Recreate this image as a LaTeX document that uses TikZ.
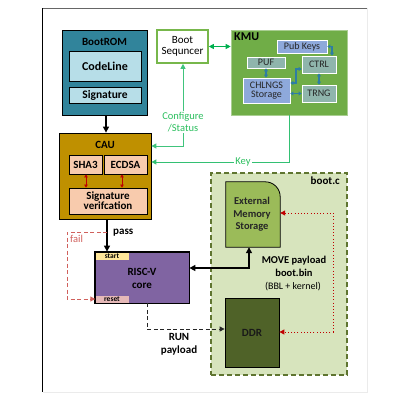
\documentclass[tikz,border=0pt]{standalone}
\usepackage{fontspec}
\setmainfont{Carlito}
\usetikzlibrary{arrows.meta,calc}
\definecolor{teal1}{HTML}{31849B}
\definecolor{ltblue}{HTML}{B7DEE8}
\definecolor{gold}{HTML}{BF9000}
\definecolor{peach}{HTML}{F8CBAD}
\definecolor{darkred}{HTML}{C00000}
\definecolor{seqgreen}{HTML}{77B74B}
\definecolor{arrgreen}{HTML}{00B050}
\definecolor{txtgreen}{HTML}{2BBF5E}
\definecolor{kmugreen}{HTML}{70AD47}
\definecolor{kmublue}{HTML}{8EA9DB}
\definecolor{kmugray}{HTML}{8FB5AC}
\definecolor{kmuarrow}{HTML}{2E7DA3}
\definecolor{purp}{HTML}{8064A2}
\definecolor{startc}{HTML}{FFE699}
\definecolor{resetc}{HTML}{E6B9B8}
\definecolor{failc}{HTML}{D0605C}
\definecolor{bootc}{HTML}{D7E4BD}
\definecolor{bootb}{HTML}{5F7530}
\definecolor{extc}{HTML}{9BBB59}
\definecolor{ddrc}{HTML}{4F6228}
\tikzset{
  blk/.style={draw=black, line width=0.8pt, inner sep=0pt, align=center},
  txt/.style={inner sep=0pt, align=center},
  bf/.style={font=\fontsize{11}{12}\selectfont\bfseries},
  rg/.style={font=\fontsize{11}{12}\selectfont},
  kmubox/.style={draw=white, line width=0.6pt, inner sep=0pt, align=center, font=\fontsize{10}{11}\selectfont, text=black!85},
  garrow/.style={draw=arrgreen, line width=1pt, {Triangle[length=5pt,width=5pt]}-{Triangle[length=5pt,width=5pt]}},
  karrow/.style={draw=kmuarrow, line width=1.1pt, {Triangle[length=3pt,width=3.8pt]}-{Triangle[length=3pt,width=3.8pt]}},
  rarrow/.style={draw=darkred, line width=0.8pt, {Triangle[length=3pt,width=3.5pt]}-{Triangle[length=3pt,width=3.5pt]}},
  barrow/.style={draw=black, line width=1.4pt, -{Triangle[length=6pt,width=6pt]}},
}
\begin{document}
\begin{tikzpicture}[x=1pt,y=-1pt]
\useasboundingbox (0,0) rectangle (401,408);
% frame
\draw[black!8, line width=0.6pt] (367,8) -- (367,392) -- (42.5,392);
\draw[black!60, line width=0.6pt] (42.5,8) -- (367,8);
\draw[black, line width=0.9pt] (42.5,8) -- (42.5,392);

% BootROM
\node[blk, fill=teal1, minimum width=85, minimum height=85] (bootrom) at (104.5,72.5) {};
\node[txt, bf] (bootromt) at (104.5,42) {BootROM};
\node[blk, fill=ltblue, minimum width=72, minimum height=30, font=\fontsize{12}{13}\selectfont\bfseries] (codeline) at (105,66) {CodeLine};
\node[blk, fill=ltblue, minimum width=72, minimum height=16, font=\fontsize{11.5}{12}\selectfont\bfseries] (sig) at (105,95) {Signature};

% CAU
\node[blk, fill=gold, minimum width=92, minimum height=86] (cau) at (105,176) {};
\node[txt, bf] (caut) at (105,145) {CAU};
\node[blk, fill=peach, minimum width=33, minimum height=19, bf] (sha) at (85.5,164.5) {SHA3};
\node[blk, fill=peach, minimum width=43, minimum height=19, bf] (ecdsa) at (125.5,164.5) {ECDSA};
\node[blk, fill=peach, minimum width=78, minimum height=26, bf] (sv) at (108,201) {Signature\\[-2pt]verifcation};
\draw[rarrow] (sha.south -| 86,0) -- (sv.north -| 86,0);
\draw[rarrow] (ecdsa.south -| 122,0) -- (sv.north -| 122,0);

\draw[barrow, line width=1.2pt] (bootrom.south -| 106,0) -- (cau.north -| 106,0);

% Boot sequencer
\node[draw=seqgreen, line width=1.6pt, fill=white, minimum width=51, minimum height=33, inner sep=0pt, align=center, rg] (seq) at (182.5,46.5) {Boot\\[-1pt]Sequncer};

% KMU
\node[draw=kmugreen!60, line width=0.6pt, fill=kmugreen, minimum width=116, minimum height=85, inner sep=0pt] (kmu) at (289,72.5) {};
\node[txt, font=\fontsize{12}{13}\selectfont\bfseries, anchor=west] (kmut) at (234,37) {KMU};
\node[kmubox, fill=kmublue, minimum width=50, minimum height=13] (pub) at (302,46.5) {Pub Keys};
\node[kmubox, fill=kmugray, minimum width=38, minimum height=11] (puf) at (266,62.5) {PUF};
\node[kmubox, fill=kmugray, minimum width=34, minimum height=17] (ctrl) at (319,64.5) {CTRL};
\node[kmubox, fill=kmublue, minimum width=47, minimum height=25] (chl) at (266.5,90.5) {CHLNGS\\[-2pt]Storage};
\node[kmubox, fill=kmugray, minimum width=34, minimum height=17] (trng) at (319,93.5) {TRNG};
\draw[karrow] (pub.east) -| (ctrl.north -| 332,0);
\draw[karrow] (puf.south) -- (chl.north -| puf.south);
\draw[karrow] (chl.east |- 0,83) -- (296,83) |- (ctrl.west |- 0,69);
\draw[karrow] (ctrl.south) -- (trng.north);
\draw[karrow] (chl.east |- 0,93.5) -- (trng.west);

\draw[garrow] (seq.east) -- (kmu.west |- seq.east);

% Configure / Status
\coordinate (cfgc) at (183,146);
\draw[garrow, draw=arrgreen!75] (seq.south -| cfgc) -- (cfgc) -- (cau.east |- cfgc);
\node[txt, fill=white, inner ysep=1pt, text=txtgreen, font=\fontsize{10.5}{12.5}\selectfont] (cfg) at (183,122) {Configure\\/Status};

% Key
\coordinate (keyc) at (289,162);
\draw[draw=arrgreen!80, line width=1pt, -{Triangle[length=5pt,width=5pt]}] (kmu.south -| keyc) -- (keyc) -- (cau.east |- keyc);
\node[txt, fill=white, inner xsep=1pt, text=txtgreen, font=\fontsize{10.5}{12}\selectfont] (key) at (243,162) {Key};

% boot.c region
\node[draw=bootb, line width=1.6pt, dash pattern=on 5pt off 3pt, fill=bootc, minimum width=136, minimum height=202, inner sep=0pt] (bootc) at (279,274) {};
\node[txt, bf, anchor=east] (bootct) at (340,181) {boot.c};

% External memory
\node[txt, minimum width=54, minimum height=65] (ext) at (253,214.5) {};
\draw[draw=black, line width=0.8pt, fill=extc] (ext.south west) -- (ext.north west) -- ([xshift=-15pt]ext.north east) .. controls ([xshift=-6.7pt]ext.north east) and ([yshift=-6.7pt]ext.north east) .. ([yshift=-15pt]ext.north east) -- (ext.south east) -- cycle;
\node[txt, font=\fontsize{10.5}{12.5}\selectfont\bfseries, text=black!85] (extt) at (252,214.5) {External\\Memory\\Storage};

% DDR
\node[blk, fill=ddrc, minimum width=54, minimum height=69, bf, text=black!90] (ddr) at (252,332.5) {DDR};

% RISC-V
\node[blk, fill=purp, minimum width=94, minimum height=51, bf] (risc) at (142,277.5) {};
\node[txt, bf] (risct) at (142,278.5) {RISC-V\\[1pt]core};
\node[draw=none, fill=startc, minimum width=33, minimum height=7, inner sep=0pt, font=\fontsize{7.5}{8}\selectfont\bfseries] (start) at (112,256) {start};
\node[draw=none, fill=resetc, minimum width=33, minimum height=7, inner sep=0pt, font=\fontsize{7.5}{8}\selectfont\bfseries] (reset) at (112,299) {reset};
\draw[black, line width=0.8pt] (risc.north west) rectangle (risc.south east);

% pass / fail
\coordinate (passc) at (107,232);
\draw[barrow, line width=1.2pt] (cau.south -| passc) -- (risc.north -| passc);
\node[txt, bf, anchor=west] (pass) at (113,233) {pass};
\draw[draw=failc, line width=1pt, dash pattern=on 4pt off 2.5pt, -{Triangle[length=5pt,width=5pt]}] (passc) -- (67,232) |- (reset.west);
\node[txt, text=failc, font=\fontsize{10.5}{12}\selectfont, anchor=west] (fail) at (70,239) {fail};

% MOVE payload
\coordinate (movec) at (249,268);
\draw[draw=black, line width=1.6pt, {Triangle[length=6pt,width=6pt]}-{Triangle[length=6pt,width=6pt]}] (risc.east |- movec) -- (movec) -- (ext.south -| movec);
\node[txt, font=\fontsize{10.5}{12}\selectfont\bfseries] (move) at (294,266) {MOVE payload\\[1pt]boot.bin};
\node[txt, font=\fontsize{10}{11}\selectfont] (bbl) at (293,287) {(BBL + kernel)};

% red dotted
\coordinate (dotc) at (333,213);
\draw[draw=darkred, line width=1pt, dash pattern=on 1pt off 2.2pt, {Triangle[length=5pt,width=5pt]}-{Triangle[length=5pt,width=5pt]}] (ext.east |- dotc) -- (dotc) |- (ddr.east |- 0,332);

% RUN payload
\coordinate (runc) at (147,329);
\draw[draw=black!85, line width=1pt, dash pattern=on 4pt off 2.5pt, -{Triangle[length=5pt,width=5pt]}] (risc.south -| runc) -- (runc) -- (ddr.west |- runc);
\node[txt, bf] (run) at (179,344.5) {RUN\\[1pt]payload};
\end{tikzpicture}
\end{document}
